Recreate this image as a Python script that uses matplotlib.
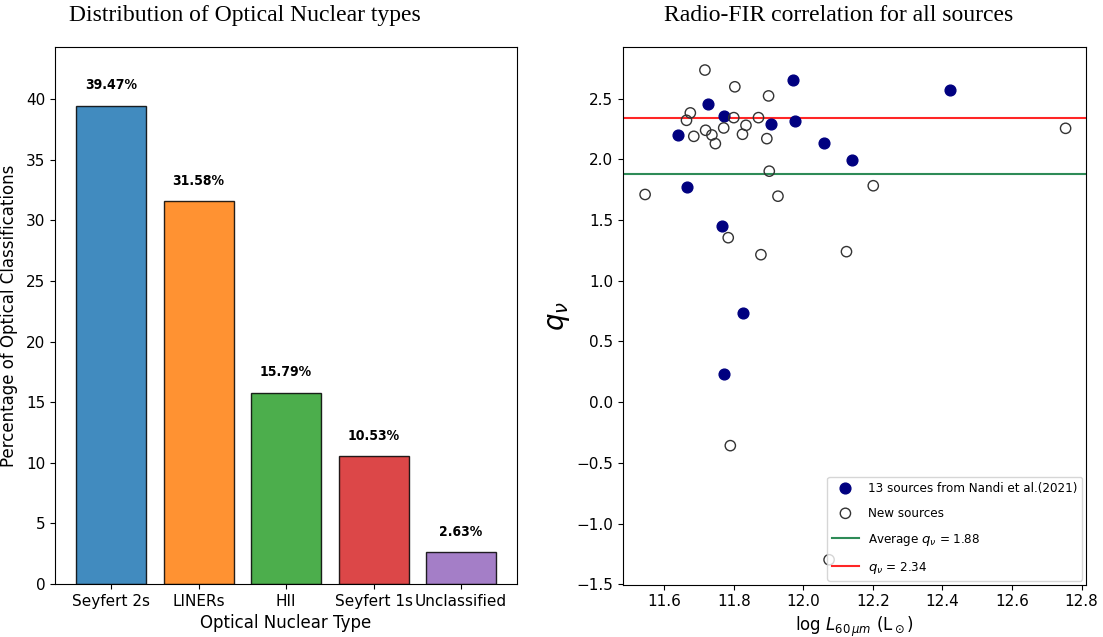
import numpy as np
import matplotlib
matplotlib.use("Agg")
import matplotlib.pyplot as plt

# left panel data
types = ["Seyfert 2s", "LINERs", "HII", "Seyfert 1s", "Unclassified"]
percent = [39.47, 31.58, 15.79, 10.53, 2.63]
bar_colors = ["tab:blue", "tab:orange", "tab:green", "tab:red", "tab:purple"]

# right panel data
nandi_L = [11.969, 12.423, 11.726, 11.772, 11.906, 11.975, 11.641,
           12.058, 12.139, 11.666, 11.766, 11.827, 11.772]
nandi_q = [2.650, 2.573, 2.460, 2.361, 2.295, 2.317, 2.201,
           2.135, 1.992, 1.771, 1.449, 0.733, 0.229]
new_L = [11.717, 11.803, 11.900, 11.675, 11.664, 11.800, 11.871, 11.835,
         11.771, 11.719, 11.737, 11.685, 11.825, 11.895, 11.747, 12.754,
         11.902, 11.545, 11.927, 12.201, 11.784, 11.878, 12.124, 11.790,
         12.074]
new_q = [2.736, 2.598, 2.523, 2.383, 2.322, 2.344, 2.344, 2.281,
         2.259, 2.240, 2.201, 2.190, 2.207, 2.171, 2.130, 2.256,
         1.903, 1.711, 1.697, 1.783, 1.355, 1.215, 1.240, -0.358,
         -1.298]
q_avg = 1.88
q_ref = 2.34

fig = plt.figure(figsize=(11.03, 6.37), dpi=100)
ax1 = fig.add_axes([0.0499, 0.0832, 0.4189, 0.843])
ax2 = fig.add_axes([0.565, 0.082, 0.420, 0.845])

x = np.arange(len(types))
ax1.bar(x, percent, width=0.8, color=bar_colors, alpha=0.85,
        edgecolor="black", linewidth=1)
for xi, p in zip(x, percent):
    ax1.text(xi, p + 1.1, f"{p:.2f}%", ha="center", va="bottom",
             fontsize=10, fontweight="bold", fontstretch="condensed")
ax1.set_xticks(x)
ax1.set_xticklabels(types, fontsize=11)
ax1.tick_params(axis="y", labelsize=11)
ax1.set_ylim(0, 44.3)
ax1.set_xlabel("Optical Nuclear Type", fontsize=12)
ax1.set_ylabel("Percentage of Optical Classifications", fontsize=12)
ax1.yaxis.set_label_coords(-0.08, 0.5)

ax2.scatter(nandi_L, nandi_q, s=60, color="navy",
            label="13 sources from Nandi et al.(2021)", zorder=3)
ax2.scatter(new_L, new_q, s=55, facecolors="none", edgecolors="#333333",
            linewidths=1, label="New sources", zorder=3)
ax2.axhline(q_avg, color="#2e8b57", linewidth=1.5,
            label=r"Average $q_\nu$ = 1.88")
ax2.axhline(q_ref, color="red", alpha=0.85, linewidth=1.5,
            label=r"$q_\nu$ = 2.34")
ax2.set_xlim(11.482, 12.814)
ax2.set_ylim(-1.504, 2.93)
ax2.set_xticks([11.6, 11.8, 12.0, 12.2, 12.4, 12.6, 12.8])
ax2.set_yticks(np.arange(-1.5, 2.6, 0.5))
ax2.tick_params(labelsize=11)
ax2.set_xlabel(r"log $L_{60\,\mu m}$ (L$_\odot$)", fontsize=12)
ax2.set_ylabel(r"$q_\nu$", fontsize=20)
ax2.yaxis.set_label_coords(-0.11, 0.5)
ax2.legend(loc="lower right", prop={"size": 9.5, "stretch": "condensed"},
           labelspacing=0.9, handlelength=2.0, handletextpad=0.7,
           borderaxespad=0.3)

fig.text(0.222, 0.975, "Distribution of Optical Nuclear types",
         family="Liberation Serif", fontsize=17, ha="center", va="center")
fig.text(0.760, 0.975, "Radio-FIR correlation for all sources",
         family="Liberation Serif", fontsize=17, ha="center", va="center")

fig.savefig("out.png", dpi=100)
